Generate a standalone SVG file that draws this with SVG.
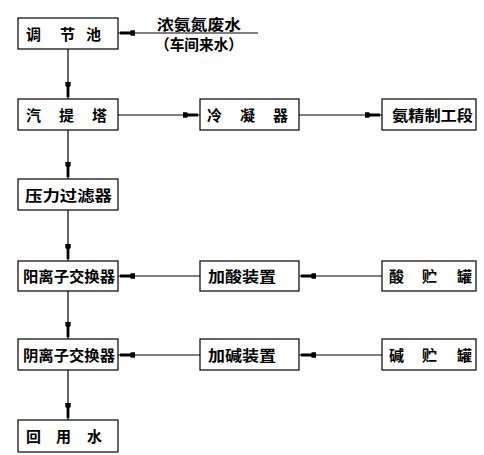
<svg xmlns="http://www.w3.org/2000/svg" width="484" height="455" viewBox="0 0 484 455">
<style>
.box{fill:#fff;stroke:#000;stroke-width:1.2}
.t{font-family:"Noto Sans CJK SC","Noto Sans CJK JP",sans-serif;font-weight:bold;font-size:15px;fill:#000}
.c{stroke:#000;stroke-width:1.2;fill:none;marker-end:url(#ah)}
</style>
<defs>
<marker id="ah" markerUnits="userSpaceOnUse" orient="auto" markerWidth="20" markerHeight="8" refX="0" refY="0" viewBox="-18 -4 20 8" overflow="visible">
<path d="M-2,-1.4 L-12,-1.4 L-13,-2.7 L-17,-2.7 L-17,2.7 L-13,2.7 L-12,1.4 L-2,1.4 Z" fill="#000"/>
</marker>
</defs>
<rect width="484" height="455" fill="#fff"/>
<g id="connectors">
<line class="c" x1="258" y1="33" x2="118" y2="33"/>
<line class="c" x1="68" y1="49" x2="68" y2="99"/>
<line class="c" x1="118" y1="115" x2="200" y2="115"/>
<line class="c" x1="299" y1="115" x2="382" y2="115"/>
<line class="c" x1="68" y1="130" x2="68" y2="179"/>
<line class="c" x1="68" y1="210" x2="68" y2="261"/>
<line class="c" x1="200" y1="276" x2="118" y2="276"/>
<line class="c" x1="382" y1="276" x2="299" y2="276"/>
<line class="c" x1="68" y1="291" x2="68" y2="339"/>
<line class="c" x1="200" y1="355" x2="118" y2="355"/>
<line class="c" x1="382" y1="355" x2="299" y2="355"/>
<line class="c" x1="68" y1="370" x2="68" y2="420"/>
</g>
<g id="feed">
<text class="t" x="157" y="30" textLength="84" lengthAdjust="spacingAndGlyphs">浓氨氮废水</text>
<text class="t" x="155" y="50" font-size="14" textLength="88" lengthAdjust="spacingAndGlyphs">（车间来水）</text>
</g>
<g id="n1"><rect class="box" x="18" y="18" width="100" height="31"/><text class="t" x="26 60 86" y="40">调节池</text></g>
<g id="n2"><rect class="box" x="18" y="99" width="100" height="31"/><text class="t" x="26 59 92" y="121">汽提塔</text></g>
<g id="n3"><rect class="box" x="200" y="99" width="99" height="31"/><text class="t" x="207 240 273" y="121">冷凝器</text></g>
<g id="n4"><rect class="box" x="382" y="99" width="94" height="31"/><text class="t" x="392" y="121" textLength="81" lengthAdjust="spacingAndGlyphs">氨精制工段</text></g>
<g id="n5"><rect class="box" x="18" y="179" width="100" height="31"/><text class="t" x="25" y="201" textLength="87" lengthAdjust="spacingAndGlyphs">压力过滤器</text></g>
<g id="n6"><rect class="box" x="18" y="261" width="100" height="30"/><text class="t" x="23" y="282" textLength="92" lengthAdjust="spacingAndGlyphs">阳离子交换器</text></g>
<g id="n7"><rect class="box" x="200" y="261" width="99" height="30"/><text class="t" x="208" y="282" textLength="68" lengthAdjust="spacingAndGlyphs">加酸装置</text></g>
<g id="n8"><rect class="box" x="382" y="261" width="94" height="30"/><text class="t" x="389 422 457" y="282">酸贮罐</text></g>
<g id="n9"><rect class="box" x="18" y="339" width="100" height="31"/><text class="t" x="23" y="361" textLength="92" lengthAdjust="spacingAndGlyphs">阴离子交换器</text></g>
<g id="n10"><rect class="box" x="200" y="339" width="99" height="31"/><text class="t" x="208" y="361" textLength="68" lengthAdjust="spacingAndGlyphs">加碱装置</text></g>
<g id="n11"><rect class="box" x="382" y="339" width="94" height="31"/><text class="t" x="389 422 457" y="361">碱贮罐</text></g>
<g id="n12"><rect class="box" x="18" y="420" width="100" height="32"/><text class="t" x="26 56 87" y="442">回用水</text></g>
</svg>
